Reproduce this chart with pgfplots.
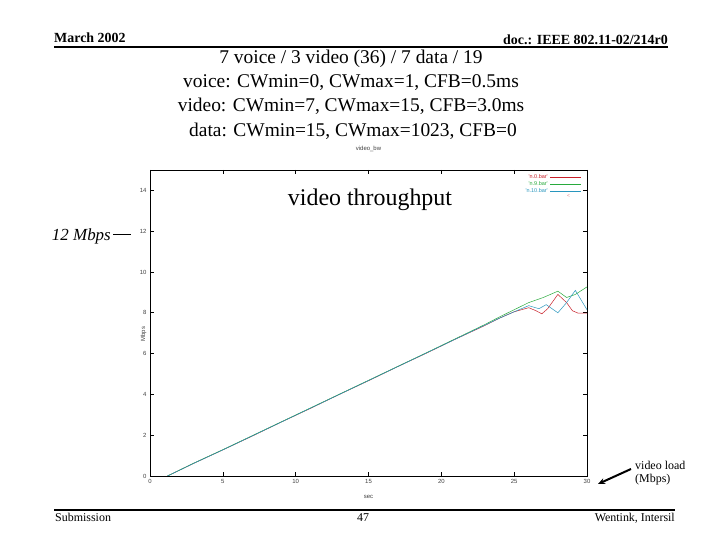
\documentclass[border=0pt]{standalone}
\usepackage{fontspec}
\setmainfont{Liberation Serif}
\newfontfamily\gp{Liberation Sans}
\usepackage{pgfplots}
\pgfplotsset{compat=1.18}
\usetikzlibrary{arrows.meta}
\definecolor{gpred}{RGB}{200,30,40}
\definecolor{gpgreen}{RGB}{40,170,60}
\definecolor{gpblue}{RGB}{40,150,190}
\begin{document}
\begin{tikzpicture}
\path[use as bounding box, fill=white] (0,0) rectangle (720bp,540bp);
\begin{axis}[
  at={(150bp,64bp)}, anchor=south west,
  width=437bp, height=306bp, scale only axis,
  xmin=0, xmax=30, ymin=0, ymax=15,
  xtick={0,5,...,30}, ytick={0,2,...,14},
  tick align=inside, major tick length=4bp,
  axis line style={line width=0.8pt},
  tick style={line width=0.6pt, black},
  /pgf/number format/assume math mode=true,
  ticklabel style={font=\gp\fontsize{6}{7}\selectfont, text=black!75},
  title={video\_bw},
  title style={font=\gp\fontsize{6}{7}\selectfont, text=black!75, at={(0.5,1)}, anchor=south, yshift=9bp},
  xlabel={sec},
  xlabel style={font=\gp\fontsize{6}{7}\selectfont, text=black!75, at={(0.5,0)}, anchor=north, yshift=-16bp},
  ylabel={Mbps},
  ylabel style={font=\gp\fontsize{6}{7}\selectfont, text=black!75, at={(0,0.5)}, anchor=south, rotate=0, xshift=-11bp},
  legend style={at={(0.99,0.995)}, anchor=north east, draw=none, fill=none,
    font=\gp\fontsize{5.5}{6}\selectfont, row sep=-2.5pt, inner sep=1pt},
  legend cell align=right,
  legend plot pos=right,
  legend image code/.code={\draw[#1] (0cm,0cm) -- (1.1cm,0cm);},
  every axis plot/.append style={line width=0.5pt},
]
% 'n.0.bar'
\addplot[gpred] coordinates {
  (1.2,0) (3,0.62) (5,1.28) (7,1.95) (9,2.64) (11,3.31) (13,4.0) (15,4.67)
  (17,5.36) (19,6.03) (21,6.72) (23,7.38) (24,7.74) (25,8.05) (26,8.25)
  (26.5,8.1) (26.9,7.95) (27.3,8.2) (28.0,8.9) (28.6,8.5) (29.0,8.1)
  (29.4,7.98) (30,7.98)
};
% 'n.9.bar'
\addplot[gpgreen] coordinates {
  (1.2,0) (3,0.63) (5,1.29) (7,1.97) (9,2.65) (11,3.33) (13,4.01) (15,4.69)
  (17,5.37) (19,6.05) (21,6.74) (23,7.43) (24,7.8) (25,8.15) (26,8.5)
  (27,8.75) (28,9.06) (28.6,8.75) (29.2,8.9) (30,9.27)
};
% 'n.10.bar'
\addplot[gpblue] coordinates {
  (1.2,0) (3,0.62) (5,1.28) (7,1.96) (9,2.64) (11,3.32) (13,4.0) (15,4.68)
  (17,5.36) (19,6.04) (21,6.72) (23,7.40) (24,7.74) (25,8.05) (26,8.35)
  (26.7,8.2) (27.2,8.4) (28.0,8.0) (28.6,8.5) (29.2,9.1) (30,8.15)
};
\legend{\textcolor{gpred}{'n.0.bar'},\textcolor{gpgreen}{'n.9.bar'},\textcolor{gpblue}{'n.10.bar'}}
\node[font=\gp\fontsize{5}{6}\selectfont, text=gpred!60] at (rel axis cs:0.958,0.915) {<};
\end{axis}
\begin{scope}[x=1bp, y=1bp]
  % header
  \draw[line width=2pt] (54,492.7) -- (668,492.7);
  \node[anchor=base west, inner sep=0, font=\fontsize{14}{16}\selectfont\bfseries] at (54,497.3) {March 2002};
  \node[anchor=base east, inner sep=0, font=\fontsize{14}{16}\selectfont\bfseries] at (668,495.5) {doc.: IEEE 802.11-02/214r0};
  % slide title
  \node[anchor=base, inner sep=0, font=\fontsize{19.5}{24}\selectfont] at (351,476) {7 voice / 3 video (36) / 7 data / 19};
  \node[anchor=base, inner sep=0, font=\fontsize{19.5}{24}\selectfont] at (351,452) {voice: CWmin=0, CWmax=1, CFB=0.5ms};
  \node[anchor=base, inner sep=0, font=\fontsize{19.5}{24}\selectfont] at (351,428) {video: CWmin=7, CWmax=15, CFB=3.0ms};
  \node[anchor=base, inner sep=0, font=\fontsize{19.5}{24}\selectfont] at (353,403) {data: CWmin=15, CWmax=1023, CFB=0};
  % annotations
  \node[anchor=center, inner sep=0, font=\fontsize{24}{28}\selectfont] at (370,340) {video throughput};
  \node[anchor=base east, inner sep=0, font=\fontsize{17}{20}\selectfont\itshape] at (111,300) {12 Mbps};
  \draw[line width=0.8pt] (113,306) -- (131,306);
  \node[anchor=base west, inner sep=0, font=\fontsize{12}{14}\selectfont] at (635,71) {video load};
  \node[anchor=base west, inner sep=0, font=\fontsize{12}{14}\selectfont] at (635,58) {(Mbps)};
  \draw[line width=2pt, -{Stealth[length=7bp, width=6bp]}] (631,71) -- (598,56);
  % footer
  \draw[line width=2pt] (54,30) -- (675,30);
  \node[anchor=base west, inner sep=0, font=\fontsize{12}{14}\selectfont] at (55,19) {Submission};
  \node[anchor=base, inner sep=0, font=\fontsize{12}{14}\selectfont] at (363,19) {47};
  \node[anchor=base east, inner sep=0, font=\fontsize{12}{14}\selectfont] at (675,19) {Wentink, Intersil};
\end{scope}
\end{tikzpicture}
\end{document}
